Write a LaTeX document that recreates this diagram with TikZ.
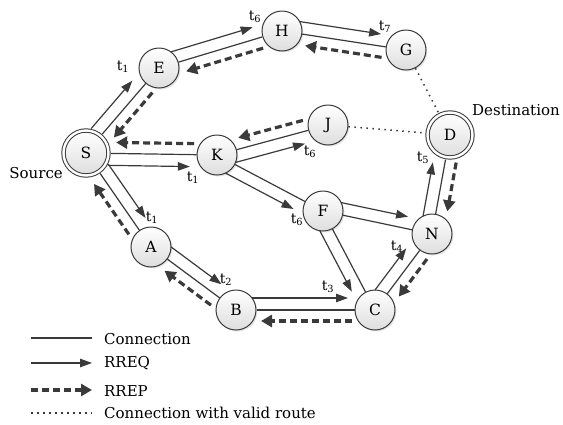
\documentclass[tikz,border=0pt]{standalone}
\usepackage{fontspec}
\setmainfont{DejaVu Serif}
\usetikzlibrary{arrows.meta,calc,shadows}
\definecolor{ink}{HTML}{3A3A3A}
\newcommand{\fs}[1]{\fontsize{#1}{#1}\selectfont}
% request / reply arrows, shifted sideways off the link
\newcommand{\rreq}[4][]{\draw[rq,#1]($(#2)!12pt!#4:(#3)$)--($(#3)!12pt!#4+180:(#2)$);}
\newcommand{\rrep}[4][]{\draw[rp,#1]($(#2)!11pt!#4:(#3)$)--($(#3)!11pt!#4+180:(#2)$);}
\begin{document}
\begin{tikzpicture}[x=1pt,y=-1pt]
\tikzstyle{vx} = [circle,draw=ink,line width=1pt,minimum size=40pt,inner sep=0pt,top color=white,bottom color=black!13,drop shadow={opacity=0.2,shadow xshift=1.5pt,shadow yshift=-1.5pt},font=\fs{15.5}] %vertex
\tikzstyle{dvx} = [vx,minimum size=45pt,double,double distance=2.4pt,outer sep=2.5pt] %end vertex
\tikzstyle{cn} = [draw=ink,line width=1.2pt] %connection
\tikzstyle{rq} = [cn,-{Triangle[length=12pt,width=8.5pt]},shorten <=16pt,shorten >=27pt] %request
\tikzstyle{rp} = [draw=ink,line width=3.2pt,dash pattern=on 7pt off 4pt,-{Triangle[length=11pt,width=12pt]},shorten <=23pt,shorten >=25pt] %reply
\tikzstyle{vr} = [draw=ink,line width=1.5pt,dash pattern=on 1.5pt off 4.5pt] %valid route
\tikzstyle{txt} = [inner sep=0pt,font=\fs{15}]
\tikzstyle{tl} = [inner sep=0pt,font=\fs{14}]
\useasboundingbox (0,0) rectangle (563,424);
\node[dvx](S)at(86,153){S};
\node[vx](E)at(159,68){E};
\node[vx](H)at(282,31){H};
\node[vx](G)at(406,50){G};
\node[vx](J)at(328,125){J};
\node[dvx](D)at(450,135){D};
\node[vx](K)at(217,155){K};
\node[vx](F)at(323,211){F};
\node[vx](N)at(432,234){N};
\node[vx](C)at(375,310){C};
\node[vx](B)at(236,310){B};
\node[vx](A)at(151,247){A};
\node[txt,anchor=east](src)at(63,173){Source};
\node[txt,anchor=west](dst)at(472,110){Destination};
% links
\foreach \a/\b in {S/E,E/H,H/G,S/K,K/J,K/F,S/A,A/B,B/C,F/C,F/N,C/N,N/D}
  \draw[cn](\a)--(\b);
\draw[vr](G)--(D);
\draw[vr](J)--(D);
% route requests
\rreq[shorten <=22pt]{S}{E}{90}
\rreq{E}{H}{90}
\rreq{H}{G}{90}
\rreq[shorten <=22pt]{S}{K}{-90}
\rreq{K}{J}{-90}
\rreq{K}{F}{-90}
\rreq[shorten <=22pt]{S}{A}{90}
\rreq{A}{B}{90}
\rreq{B}{C}{90}
\rreq{F}{C}{-90}
\rreq{F}{N}{90}
\rreq{C}{N}{90}
\rreq[shorten >=30pt]{N}{D}{90}
% route replies
\rrep[shorten >=30pt]{E}{S}{90}
\rrep{H}{E}{90}
\rrep{G}{H}{90}
\rrep[shorten >=30pt]{K}{S}{-90}
\rrep{J}{K}{-90}
\rrep[shorten >=30pt]{A}{S}{90}
\rrep{B}{A}{90}
\rrep{C}{B}{90}
\rrep{N}{C}{90}
\rrep[shorten <=26pt]{D}{N}{90}
% hop times
\node[tl](tse)at(123,67){t\textsubscript{1}};
\node[tl](teh)at(255,17){t\textsubscript{6}};
\node[tl](thg)at(385,27){t\textsubscript{7}};
\node[tl](tsk)at(193,178){t\textsubscript{1}};
\node[tl](tkj)at(310,152){t\textsubscript{6}};
\node[tl](tkf)at(297,220){t\textsubscript{6}};
\node[tl](tsa)at(152,218){t\textsubscript{1}};
\node[tl](tab)at(226,280){t\textsubscript{2}};
\node[tl](tbc)at(328,287){t\textsubscript{3}};
\node[tl](tcn)at(397,247){t\textsubscript{4}};
\node[tl](tnd)at(423,158){t\textsubscript{5}};
% legend
\coordinate(la)at(31,338); \coordinate(ra)at(92,338);
\coordinate(lb)at(31,363); \coordinate(rb)at(92,363);
\coordinate(lc)at(31,390); \coordinate(rc)at(92,390);
\coordinate(ld)at(31,413); \coordinate(rd)at(92,413);
\draw[cn](la)--(ra);
\draw[rq,shorten <=0pt,shorten >=0pt](lb)--(rb);
\draw[rp,shorten <=0pt,shorten >=0pt](lc)--(rc);
\draw[vr](ld)--(rd);
\node[txt,anchor=west](ka)at(104,339){Connection};
\node[txt,anchor=west](kb)at(104,363){RREQ};
\node[txt,anchor=west](kc)at(104,391){RREP};
\node[txt,anchor=west](kd)at(104,413){Connection with valid route};
\end{tikzpicture}
\end{document}
